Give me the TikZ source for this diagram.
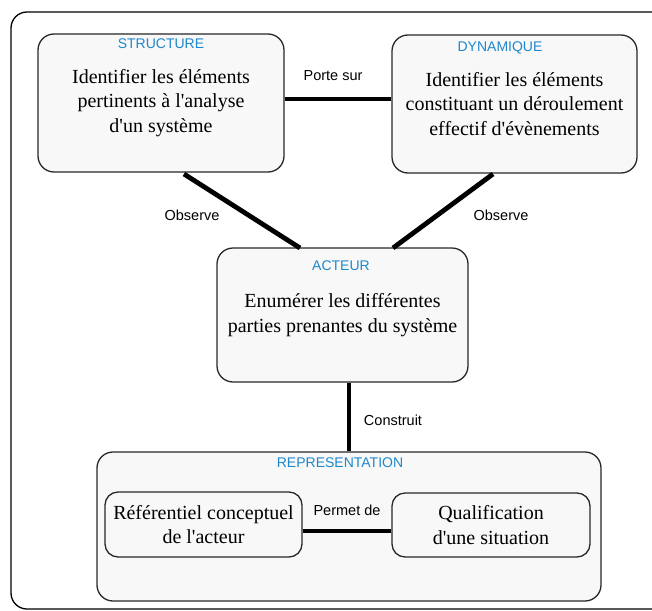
\documentclass[tikz,border=0pt]{standalone}
\usepackage{fontspec}
\setmainfont{Liberation Serif}
\setsansfont{Liberation Sans}
\definecolor{ttl}{RGB}{30,136,204}
\definecolor{boxfill}{RGB}{248,248,248}
\definecolor{boxdraw}{RGB}{40,40,40}
\newcommand{\apos}{\textquotesingle}
\begin{document}
\begin{tikzpicture}[x=1pt,y=-1pt,
  bigbox/.style={draw=boxdraw, line width=1.3pt, fill=boxfill, rounded corners=16pt, inner sep=0pt, align=center, font=\fontsize{20}{24.5}\selectfont},
  smallbox/.style={draw=boxdraw, line width=1.3pt, fill=boxfill, rounded corners=13pt, inner sep=0pt, align=center, font=\fontsize{20}{24.5}\selectfont},
  ttlnode/.style={text=ttl, font=\sffamily\fontsize{14}{16}\selectfont, inner sep=0pt},
  lbl/.style={font=\sffamily\fontsize{14.5}{16}\selectfont, inner sep=0pt},
  link/.style={line width=4.8pt}]
\useasboundingbox (0,0) rectangle (652,610);
\clip (0,0) rectangle (652,610);
% outer frame
\draw[line width=1.3pt, rounded corners=16pt, draw=black] (11,12) rectangle (672,609);

\node[bigbox, minimum width=246pt, minimum height=138pt] (str) at (161,103)
  {Identifier les éléments\\pertinents à l\apos analyse\\d\apos un système};
\node[ttlnode] (strt) at (161,44) {STRUCTURE};

\node[bigbox, minimum width=245pt, minimum height=138pt] (dyn) at (514.5,104)
  {Identifier les éléments\\constituant un déroulement\\effectif d\apos évènements};
\node[ttlnode] (dynt) at (500,48) {DYNAMIQUE};

\node[bigbox, minimum width=251pt, minimum height=134pt] (act) at (342.5,315)
  {Enumérer les différentes\\parties prenantes du système};
\node[ttlnode] (actt) at (341,265.5) {ACTEUR};

\node[bigbox, minimum width=504pt, minimum height=149pt] (rep) at (349,526.5) {};
\node[ttlnode] (rept) at (340,463) {REPRESENTATION};

\node[smallbox, minimum width=197pt, minimum height=65pt] (ref) at (203.5,524.5)
  {Référentiel conceptuel\\de l\apos acteur};
\node[smallbox, minimum width=198pt, minimum height=64pt] (qual) at (491,525)
  {Qualification\\d\apos une situation};

% connectors
\coordinate (s1) at (184,174);
\coordinate (a1) at (300,248);
\coordinate (d1) at (493,174);
\coordinate (a2) at (393,248);
\draw[link] (str.east |- 0,99) -- (dyn.west |- 0,99);
\draw[link] (s1) -- (a1);
\draw[link] (d1) -- (a2);
\draw[link] (act.south -| 349,0) -- (rep.north -| 349,0);
\draw[link] (ref.east |- 0,531) -- (qual.west |- 0,531);

\node[lbl] (l1) at (333,76) {Porte sur};
\node[lbl] (l2) at (192,215) {Observe};
\node[lbl] (l3) at (501,215) {Observe};
\node[lbl] (l4) at (393,420) {Construit};
\node[lbl] (l5) at (347,510) {Permet de};
\end{tikzpicture}
\end{document}
